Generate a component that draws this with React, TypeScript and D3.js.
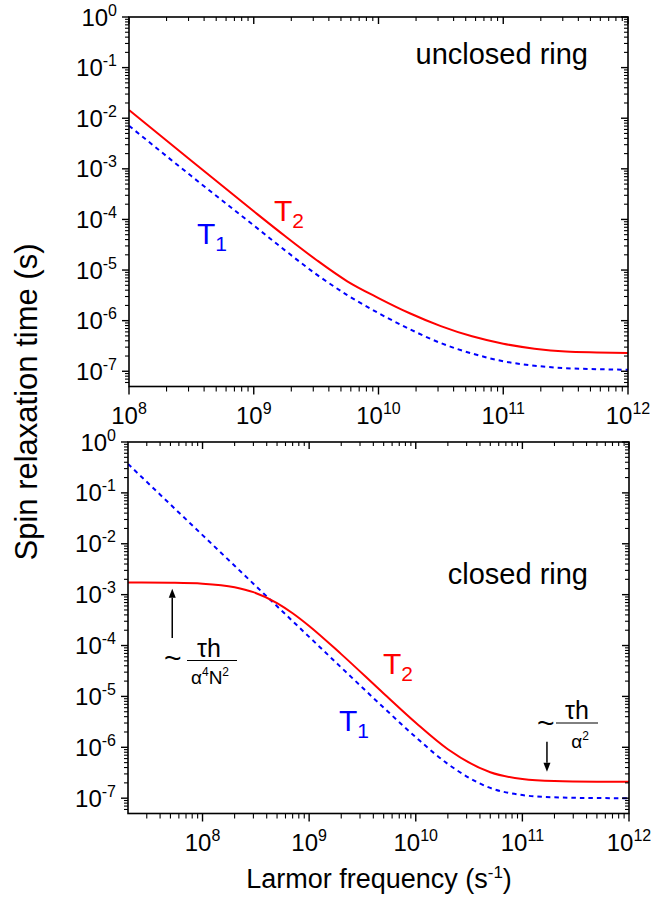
import React from 'react';
import * as d3 from 'd3';

// ---- data ----
const TOP_FREQ = [1e8, 3.16e8, 1e9, 1.78e9, 3.16e9, 5.62e9, 1e10, 1.78e10, 3.16e10, 5.62e10, 1e11, 1.78e11, 3.16e11, 5.62e11, 1e12];
const TOP_T2 = [1.45e-2, 1.45e-3, 1.45e-4, 4.7e-5, 1.6e-5, 6.0e-6, 2.8e-6, 1.4e-6, 7.8e-7, 4.9e-7, 3.5e-7, 2.8e-7, 2.45e-7, 2.35e-7, 2.3e-7];
const TOP_T1 = [7.1e-3, 7.2e-4, 7.6e-5, 2.45e-5, 8.3e-6, 3.2e-6, 1.41e-6, 6.8e-7, 3.6e-7, 2.24e-7, 1.58e-7, 1.29e-7, 1.15e-7, 1.1e-7, 1.07e-7];

const BOT_FREQ = [2e7, 5e7, 1e8, 2e8, 3e8, 5e8, 7e8, 1e9, 2e9, 5e9, 1e10, 2e10, 5e10, 1e11, 2e11, 5e11, 1e12];
const BOT_T2 = [1.74e-3, 1.71e-3, 1.64e-3, 1.4e-3, 1.12e-3, 6.84e-4, 4.32e-4, 2.43e-4, 6.78e-5, 1.14e-5, 3.03e-6, 9.15e-7, 3.23e-7, 2.38e-7, 2.17e-7, 2.11e-7, 2.1e-7];
const BOT_T1 = [0.37, 5.92e-2, 1.48e-2, 3.7e-3, 1.64e-3, 5.92e-4, 3.02e-4, 1.48e-4, 3.7e-5, 6.02e-6, 1.58e-6, 4.7e-7, 1.59e-7, 1.15e-7, 1.04e-7, 1.006e-7, 1.0e-7];

const Y_EXPONENTS = [0, -1, -2, -3, -4, -5, -6, -7];
const X_EXPONENTS = [8, 9, 10, 11, 12];

const FONT = 'Liberation Sans, Arial, Helvetica, sans-serif';
const RED = '#ff0000';
const BLUE = '#0000ff';

function minorTicks(lo: number, hi: number): number[] {
  const out: number[] = [];
  for (let e = -9; e <= 13; e++) {
    for (let m = 2; m <= 9; m++) {
      const v = m * Math.pow(10, e);
      if (v > lo * 1.0001 && v < hi * 0.9999) out.push(v);
    }
  }
  return out;
}

function Pow10({ x, y, exp, anchor }: any) {
  return (
    <text x={x} y={y} textAnchor={anchor} fontSize={24} fontFamily={FONT} fill="#000">
      10<tspan dy={-10} fontSize={16}>{String(exp)}</tspan>
    </text>
  );
}

function Panel({ freq, t1, t2, xDomain, xRange, yRange, children }: any) {
  const x = d3.scaleLog().domain(xDomain).range(xRange);
  const y = d3.scaleLog().domain([5e-8, 1]).range(yRange);
  const [left, right] = xRange;
  const [bottom, top] = yRange;
  const line = d3
    .line<number>()
    .x((_, i) => x(freq[i]))
    .y((d) => y(d))
    .curve(d3.curveMonotoneX);
  const yMajor = Y_EXPONENTS.map((e) => Math.pow(10, e));
  const yMinor = minorTicks(5e-8, 1);
  const xMajor = X_EXPONENTS.map((e) => Math.pow(10, e)).filter((v) => v >= xDomain[0] && v <= xDomain[1]);
  const xMinor = minorTicks(xDomain[0], xDomain[1]);
  const sw = 1.6;
  return (
    <g>
      <defs>
        <clipPath id={`clip-${top}`}>
          <rect x={left} y={top} width={right - left} height={bottom - top} />
        </clipPath>
      </defs>
      <g clipPath={`url(#clip-${top})`}>
        <path d={line(t1) || ''} fill="none" stroke={BLUE} strokeWidth={2} strokeDasharray="4.5,4" />
        <path d={line(t2) || ''} fill="none" stroke={RED} strokeWidth={2} />
      </g>
      <rect x={left} y={top} width={right - left} height={bottom - top} fill="none" stroke="#000" strokeWidth={sw} />
      {yMajor.map((v) => (
        <g key={'ym' + v}>
          <line x1={left - 7} x2={left} y1={y(v)} y2={y(v)} stroke="#000" strokeWidth={1.4} />
          <line x1={right - 7} x2={right} y1={y(v)} y2={y(v)} stroke="#000" strokeWidth={1.4} />
        </g>
      ))}
      {yMinor.map((v) => (
        <g key={'yn' + v}>
          <line x1={left - 4} x2={left} y1={y(v)} y2={y(v)} stroke="#000" strokeWidth={1.1} />
          <line x1={right - 4} x2={right} y1={y(v)} y2={y(v)} stroke="#000" strokeWidth={1.1} />
        </g>
      ))}
      {xMajor.map((v) => (
        <g key={'xm' + v}>
          <line x1={x(v)} x2={x(v)} y1={bottom} y2={bottom + 8} stroke="#000" strokeWidth={1.4} />
          <line x1={x(v)} x2={x(v)} y1={top} y2={top + 7} stroke="#000" strokeWidth={1.4} />
        </g>
      ))}
      {xMinor.map((v) => (
        <g key={'xn' + v}>
          <line x1={x(v)} x2={x(v)} y1={bottom} y2={bottom + 5} stroke="#000" strokeWidth={1.1} />
          <line x1={x(v)} x2={x(v)} y1={top} y2={top + 4} stroke="#000" strokeWidth={1.1} />
        </g>
      ))}
      {Y_EXPONENTS.map((e) => (
        <Pow10 key={'yl' + e} x={left - 12} y={y(Math.pow(10, e)) + 8.5} exp={e} anchor="end" />
      ))}
      {xMajor.map((v) => (
        <Pow10 key={'xl' + v} x={x(v)} y={bottom + 37} exp={Math.round(Math.log10(v))} anchor="middle" />
      ))}
      {children && children(x, y)}
    </g>
  );
}

function Arrow({ x, y1, y2 }: any) {
  const dir = y2 > y1 ? 1 : -1;
  const hl = 9;
  const hw = 3.5;
  return (
    <g>
      <line x1={x} x2={x} y1={y1} y2={y2 - dir * hl} stroke="#000" strokeWidth={1.5} />
      <polygon points={`${x},${y2} ${x - hw},${y2 - dir * hl} ${x + hw},${y2 - dir * hl}`} fill="#000" />
    </g>
  );
}

function TLabel({ x, y, sub, color }: any) {
  return (
    <text x={x} y={y} fontSize={30} fontFamily={FONT} fill={color}>
      T<tspan dy={7} fontSize={21}>{sub}</tspan>
    </text>
  );
}

export default function App() {
  return (
    <svg width={655} height={898} style={{ position: 'absolute', left: 0, top: 0, background: '#fff' }}>
      <rect x={0} y={0} width={655} height={898} fill="#fff" />
      <Panel freq={TOP_FREQ} t1={TOP_T1} t2={TOP_T2} xDomain={[1e8, 1e12]} xRange={[129, 628]} yRange={[386.5, 17]}>
        {() => (
          <g>
            <text x={588} y={64} textAnchor="end" fontSize={29} fontFamily={FONT}>unclosed ring</text>
            <TLabel x={274} y={221} sub="2" color={RED} />
            <TLabel x={197} y={244} sub="1" color={BLUE} />
          </g>
        )}
      </Panel>
      <Panel freq={BOT_FREQ} t1={BOT_T1} t2={BOT_T2} xDomain={[2e7, 1e12]} xRange={[128, 629]} yRange={[813.5, 442]}>
        {(x: any, y: any) => (
          <g>
            <text x={588} y={584} textAnchor="end" fontSize={29} fontFamily={FONT}>closed ring</text>
            <TLabel x={383} y={674} sub="2" color={RED} />
            <TLabel x={339} y={731} sub="1" color={BLUE} />
            <Arrow x={x(5.2e7)} y1={y(1.4e-4)} y2={y(1.3e-3)} />
            <Arrow x={x(1.7e11)} y1={y(1.28e-6)} y2={y(3.3e-7)} />
            {/* left fraction */}
            <text x={164} y={668} fontSize={30} fontFamily={FONT}>~</text>
            <text x={209} y={657} textAnchor="middle" fontSize={25} fontFamily={FONT}>τh</text>
            <line x1={187} x2={237} y1={660.5} y2={660.5} stroke="#000" strokeWidth={1} />
            <text x={210} y={684} textAnchor="middle" fontSize={19} fontFamily={FONT}>
              α<tspan dy={-8} fontSize={12}>4</tspan><tspan dy={8}>N</tspan><tspan dy={-8} fontSize={12}>2</tspan>
            </text>
            {/* right fraction */}
            <text x={537} y={733} fontSize={30} fontFamily={FONT}>~</text>
            <text x={577} y={719} textAnchor="middle" fontSize={25} fontFamily={FONT}>τh</text>
            <line x1={556} x2={598} y1={723} y2={723} stroke="#000" strokeWidth={1} />
            <text x={580} y={748} textAnchor="middle" fontSize={19} fontFamily={FONT}>
              α<tspan dy={-8} fontSize={12}>2</tspan>
            </text>
          </g>
        )}
      </Panel>
      <text x={379} y={888} textAnchor="middle" fontSize={27} fontFamily={FONT}>
        Larmor frequency (s<tspan dy={-10} fontSize={17}>-1</tspan><tspan dy={10}>)</tspan>
      </text>
      <text transform="translate(37,402) rotate(-90)" textAnchor="middle" fontSize={31} fontFamily={FONT}>
        Spin relaxation time (s)
      </text>
    </svg>
  );
}
